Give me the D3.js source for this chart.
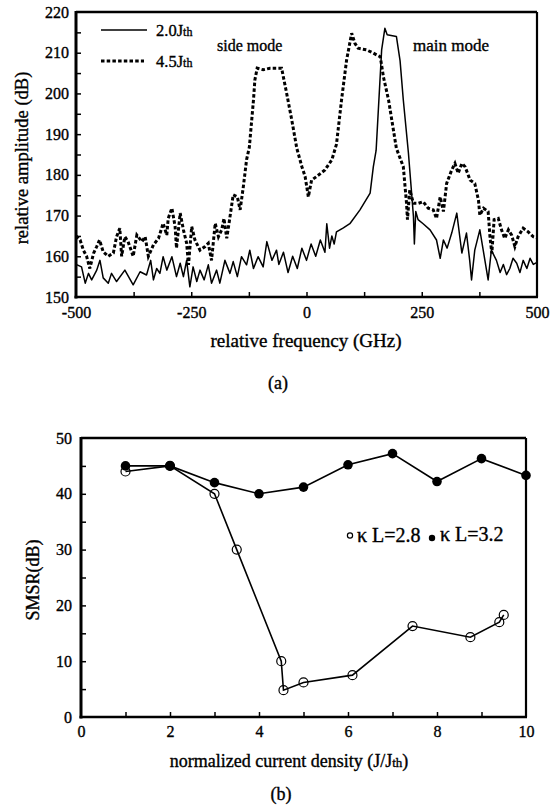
<!DOCTYPE html>
<html>
<head>
<meta charset="utf-8">
<script src="https://cdn.jsdelivr.net/npm/d3@7"></script>
<style>
  body { margin: 0; background: #fff; }
  svg { display: block; }
  svg text { font-family: "Times New Roman", "Liberation Serif", Times, serif; stroke: #000; stroke-width: 0.35px; }
</style>
</head>
<body>
<svg id="chart"></svg>
<script>
// ---- panel (a): spectra ----
const freqSolid = [-500,-488,-480,-473,-466,-455,-448,-441,-430,-423,-412,-394,-376,-361,-347,-338,-332,-325,-318,-311,-303,-292,-282,-274,-267,-260,-253,-246,-238,-231,-222,-213,-206,-195,-188,-177,-166,-159,-150,-141,-130,-123,-115,-105,-94,-86,-75,-65,-60,-50,-40,-30,-20,-10,0,10,20,30,40,44,50,55,60,65,80,94,116,138,145,151,163,170,175,195,203,210,221,228,232,234,237,242,253,268,282,290,297,305,315,326,337,347,354,358,365,376,387,394,401,412,420,427,434,441,448,456,463,470,478,485,492,500];
const ampSolid  = [158,157.4,153.4,155.8,154.2,156.6,159,154.7,153.4,155.8,153.8,156.6,153,156.2,155.4,159,154.2,157,155.8,159.9,156.6,159.9,155,158.3,155,159,152.5,157.4,153.8,156.6,154.2,157.9,153.4,156.6,153.4,159,155.8,158.7,155,159.9,157.9,161.5,157,159.9,157.4,163.6,159,161.5,158,161,156,160,157,162,159,163,160,164,161,168,162,165,163,166,167,168,171.4,175.5,182,186,210.7,216,214.4,214,208,198.4,185.5,175.5,169.7,163,171,169,168,166.5,164,159.5,164,162,165.7,170.6,160.8,165.7,159,154.2,161.5,166.5,159,154.2,161.5,159,156,158,155.5,157,159.5,158.3,156,159,157,159.5,158,158.5];

const freqDash = [-500,-491,-484,-477,-470,-462,-455,-449,-441,-430,-419,-412,-405,-401,-394,-387,-376,-368,-357,-350,-343,-332,-321,-311,-303,-300,-292,-285,-282,-274,-267,-260,-256,-249,-242,-231,-220,-213,-206,-198,-191,-184,-179,-173,-167,-159,-150,-144,-137,-130,-124,-115,-112,-107,-94,-79,-54,-43,-32,-21,-10,-3,4,11,22,40,55,65,76,87,98,105,112,130,145,160,167,178,185,195,210,217,219,224,232,242,253,264,275,282,290,297,304,315,322,329,337,344,355,365,373,376,384,394,398,402,407,416,423,430,438,445,452,459,470,481,492,500];
const ampDash  = [165,164,161.5,160,157,160.7,162.4,164,161.1,160,160.8,164.8,166.9,160,164.8,163.6,160,165.2,163.6,164.8,160,162.8,164.4,168.1,165.2,169.3,171.8,167.3,162,170.6,166.5,163.2,157.9,167.3,164,161.5,162.4,163.2,159,168.1,164.8,166.5,169.3,164.4,168.9,175.1,174.6,171.4,177.1,183.7,186.8,198.4,203.3,206.2,205.8,206.2,206.2,200,193.5,186.5,182,179.6,174.6,178.7,179.6,181.2,183.7,187.5,198.4,208.2,214.8,212.3,211.1,210.7,209.9,209,204,198.4,193.5,186.5,182,173,169,176.3,173,173,173.4,171.8,171.4,169.3,174.6,171,177.9,181.2,182.8,180.4,182.8,182,178.7,177.9,173.8,170.1,171.8,171,164.8,160.7,169,169.3,166.5,164.4,166.5,165.2,162.4,164.8,166.9,166,164.8,164.5];

const xTicksA = [-500, -250, 0, 250, 500];
const yTicksA = [150, 160, 170, 180, 190, 200, 210, 220];

// ---- panel (b): SMSR ----
const jOpen   = [1, 2, 3, 3.5, 4.5, 4.55, 5, 6.1, 7.45, 8.75, 9.4, 9.5];
const smsrOpen = [44, 45, 40, 30, 10, 4.8, 6.2, 7.5, 16.3, 14.3, 17, 18.3];
const jFilled = [1, 2, 3, 4, 5, 6, 7, 8, 9, 10];
const smsrFilled = [45, 45, 42, 40, 41.2, 45.2, 47.2, 42.2, 46.3, 43.3];

const xTicksB = [0, 2, 4, 6, 8, 10];
const yTicksB = [0, 10, 20, 30, 40, 50];

const W = 555, H = 808;
const SERIF = '"Times New Roman", "Liberation Serif", Times, serif';
const svg = d3.select('#chart').attr('width', W).attr('height', H)
  .attr('font-family', SERIF);

function frame(g, x0, x1, y0, y1) {
  // left & bottom heavy, top & right lighter
  g.append('line').attr('x1', x0).attr('x2', x0).attr('y1', y0 - 1).attr('y2', y1 + 1.5)
    .attr('stroke', '#000').attr('stroke-width', 3);
  g.append('line').attr('x1', x0 - 1.5).attr('x2', x1 + 1).attr('y1', y1).attr('y2', y1)
    .attr('stroke', '#000').attr('stroke-width', 2.6);
  g.append('line').attr('x1', x0).attr('x2', x1).attr('y1', y0).attr('y2', y0)
    .attr('stroke', '#000').attr('stroke-width', 2.4);
  g.append('line').attr('x1', x1).attr('x2', x1).attr('y1', y0).attr('y2', y1)
    .attr('stroke', '#000').attr('stroke-width', 2.2);
}

function ticksAxis(g, axis) {
  g.call(axis);
  g.attr('font-family', SERIF).attr('font-size', 16);
  g.select('.domain').remove();
  g.selectAll('.tick line').attr('stroke', '#000').attr('stroke-width', 1.5);
  g.selectAll('.tick text').attr('fill', '#000');
}

// ================= panel (a) =================
const xa = d3.scaleLinear().domain([-500, 500]).range([76, 537]);
const ya = d3.scaleLinear().domain([150, 220]).range([297, 12]);
const ga = svg.append('g');

ticksAxis(ga.append('g').attr('transform', 'translate(0,297)'),
  d3.axisBottom(xa).tickValues(xTicksA).tickSize(0).tickPadding(10).tickFormat(d => String(d)));
ticksAxis(ga.append('g').attr('transform', 'translate(0,297)'),
  d3.axisBottom(xa).tickValues(d3.range(-375, 500, 125)).tickSize(-5).tickFormat(''));
ticksAxis(ga.append('g').attr('transform', 'translate(76,0)'),
  d3.axisLeft(ya).tickValues(yTicksA).tickSize(0).tickPadding(7));
ticksAxis(ga.append('g').attr('transform', 'translate(76,0)'),
  d3.axisLeft(ya).tickValues(d3.range(155, 220, 5)).tickSize(-5).tickFormat(''));

const lineA = d3.line().x(d => xa(d[0])).y(d => ya(d[1]));
ga.append('path').attr('d', lineA(d3.zip(freqSolid, ampSolid)))
  .attr('fill', 'none').attr('stroke', '#000').attr('stroke-width', 1.5).attr('stroke-linejoin', 'round');
ga.append('path').attr('d', lineA(d3.zip(freqDash, ampDash)))
  .attr('fill', 'none').attr('stroke', '#000').attr('stroke-width', 3).attr('stroke-dasharray', '3.5,2.2');

frame(ga, 76, 537, 12, 297);

// legend (a)
ga.append('line').attr('x1', 101).attr('x2', 147).attr('y1', 30).attr('y2', 30)
  .attr('stroke', '#000').attr('stroke-width', 1.5);
ga.append('line').attr('x1', 101).attr('x2', 144).attr('y1', 61).attr('y2', 61)
  .attr('stroke', '#000').attr('stroke-width', 3).attr('stroke-dasharray', '3.5,2.2');
const legA = [['2.0', 35.5], ['4.5', 66.5]];
legA.forEach(([v, y]) => {
  const t = ga.append('text').attr('x', 156).attr('y', y).attr('font-size', 16.5);
  t.append('tspan').text(v + 'J');
  t.append('tspan').attr('font-size', 12).text('th');
});
ga.append('text').attr('x', 217).attr('y', 51).attr('font-size', 16).text('side mode');
ga.append('text').attr('x', 413).attr('y', 51).attr('font-size', 17).text('main mode');

ga.append('text').attr('x', 306).attr('y', 347).attr('text-anchor', 'middle')
  .attr('font-size', 19).text('relative frequency (GHz)');
ga.append('text').attr('transform', 'translate(28,158) rotate(-90)').attr('text-anchor', 'middle')
  .attr('font-size', 18.5).text('relative amplitude (dB)');
ga.append('text').attr('x', 278).attr('y', 389).attr('text-anchor', 'middle')
  .attr('font-size', 18).text('(a)');

// ================= panel (b) =================
const xb = d3.scaleLinear().domain([0, 10]).range([81, 526]);
const yb = d3.scaleLinear().domain([0, 50]).range([717, 438]);
const gb = svg.append('g');

ticksAxis(gb.append('g').attr('transform', 'translate(0,717)'),
  d3.axisBottom(xb).tickValues(xTicksB).tickSize(0).tickPadding(9));
ticksAxis(gb.append('g').attr('transform', 'translate(0,717)'),
  d3.axisBottom(xb).tickValues(d3.range(1, 10, 1)).tickSize(-5).tickFormat(''));
ticksAxis(gb.append('g').attr('transform', 'translate(81,0)'),
  d3.axisLeft(yb).tickValues(yTicksB).tickSize(0).tickPadding(9));
ticksAxis(gb.append('g').attr('transform', 'translate(81,0)'),
  d3.axisLeft(yb).tickValues(d3.range(5, 50, 5)).tickSize(-5).tickFormat(''));

const lineB = d3.line().x(d => xb(d[0])).y(d => yb(d[1]));
gb.append('path').attr('d', lineB(d3.zip(jOpen, smsrOpen)))
  .attr('fill', 'none').attr('stroke', '#000').attr('stroke-width', 1.6);
gb.append('path').attr('d', lineB(d3.zip(jFilled, smsrFilled)))
  .attr('fill', 'none').attr('stroke', '#000').attr('stroke-width', 1.6);

gb.selectAll('circle.open').data(d3.zip(jOpen, smsrOpen)).join('circle')
  .attr('class', 'open').attr('cx', d => xb(d[0])).attr('cy', d => yb(d[1])).attr('r', 4.5)
  .attr('fill', 'none').attr('stroke', '#000').attr('stroke-width', 1.2);
gb.selectAll('circle.filled').data(d3.zip(jFilled, smsrFilled)).join('circle')
  .attr('class', 'filled').attr('cx', d => xb(d[0])).attr('cy', d => yb(d[1])).attr('r', 4.8)
  .attr('fill', '#000');

frame(gb, 81, 526, 438, 717);

// legend (b)
gb.append('circle').attr('cx', 350).attr('cy', 535.5).attr('r', 2.6)
  .attr('fill', 'none').attr('stroke', '#000').attr('stroke-width', 1.2);
gb.append('text').attr('x', 357).attr('y', 542).attr('font-size', 20).text('κ L=2.8');
gb.append('circle').attr('cx', 432).attr('cy', 538).attr('r', 3.2).attr('fill', '#000');
gb.append('text').attr('x', 440).attr('y', 541).attr('font-size', 20).text('κ L=3.2');

const xl = gb.append('text').attr('x', 289).attr('y', 767).attr('text-anchor', 'middle').attr('font-size', 18);
xl.append('tspan').text('normalized current density (J/J');
xl.append('tspan').attr('font-size', 13).text('th');
xl.append('tspan').text(')');
gb.append('text').attr('transform', 'translate(39,580) rotate(-90)').attr('text-anchor', 'middle')
  .attr('font-size', 18).text('SMSR(dB)');
gb.append('text').attr('x', 281).attr('y', 800).attr('text-anchor', 'middle')
  .attr('font-size', 18).text('(b)');
</script>
</body>
</html>
